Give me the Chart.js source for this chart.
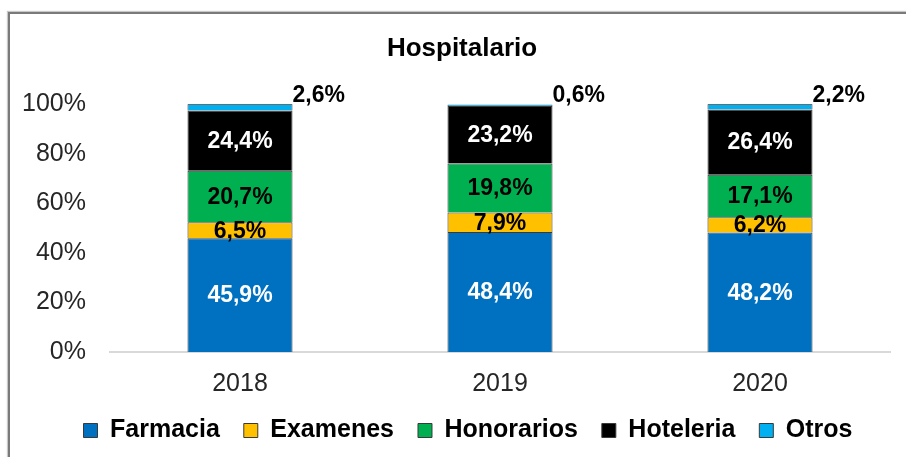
<!DOCTYPE html>
<html lang="es">
<head>
    <meta charset="UTF-8">
    <script src="https://cdn.jsdelivr.net/npm/chart.js@4/dist/chart.umd.min.js"></script>
    <title>Hospitalario</title>
    <style>
        body {
            margin: 0;
            background: #ffffff;
        }
        .frame {
            position: absolute;
            left: 8px;
            top: 12px;
            width: 1000px;
            height: 600px;
            border-left: 2px solid #7a7a7a;
            border-top: 2px solid #7a7a7a;
            box-shadow: -1px -1px 1px #c8c8c8;
        }
        .chart-container {
            position: absolute;
            left: 0;
            top: 0;
            width: 906px;
            height: 457px;
        }
    </style>
</head>
<body>
    <div class="frame"></div>
    <div class="chart-container">
        <canvas id="myChart"></canvas>
    </div>

    <script>
        // datos (porcentaje del gasto hospitalario)
        const years = ['2018', '2019', '2020'];
        const farmacia = [45.9, 48.4, 48.2];
        const examenes = [6.5, 7.9, 6.2];
        const honorarios = [20.7, 19.8, 17.1];
        const hoteleria = [24.4, 23.2, 26.4];
        const otros = [2.6, 0.6, 2.2];
        const yTicks = [0, 20, 40, 60, 80, 100];

        Chart.defaults.font.family = "'Liberation Sans', Arial, sans-serif";

        function pct(v) {
            return v.toFixed(1).replace('.', ',') + '%';
        }

        function serie(label, values, color, textColor, outside) {
            return {
                label: label,
                data: values,
                backgroundColor: color,
                borderColor: '#3a3a3a',
                borderWidth: 1,
                categoryPercentage: 1,
                barPercentage: 0.404,
                labelColor: textColor,
                labelOutside: outside
            };
        }

        const data = {
            labels: years,
            datasets: [
                serie('Farmacia', farmacia, '#0070C0', '#ffffff', false),
                serie('Examenes', examenes, '#FFC000', '#000000', false),
                serie('Honorarios', honorarios, '#00B050', '#000000', false),
                serie('Hoteleria', hoteleria, '#000000', '#ffffff', false),
                serie('Otros', otros, '#00B0F0', '#000000', true)
            ]
        };

        // etiquetas de valor dentro de cada segmento (Otros va arriba a la derecha)
        const valueLabels = {
            id: 'valueLabels',
            afterDatasetsDraw(chart) {
                const ctx = chart.ctx;
                ctx.save();
                ctx.font = 'bold 23px "Liberation Sans", Arial, sans-serif';
                chart.data.datasets.forEach((ds, i) => {
                    const meta = chart.getDatasetMeta(i);
                    meta.data.forEach((bar, j) => {
                        const text = pct(ds.data[j]);
                        ctx.fillStyle = ds.labelColor;
                        if (ds.labelOutside) {
                            const top = Math.max(bar.y, chart.chartArea.top);
                            ctx.textAlign = 'left';
                            ctx.textBaseline = 'bottom';
                            ctx.fillText(text, bar.x + bar.width / 2, top + 3);
                        } else {
                            ctx.textAlign = 'center';
                            ctx.textBaseline = 'middle';
                            ctx.fillText(text, bar.x, (bar.y + bar.base) / 2 + 1);
                        }
                    });
                });
                ctx.restore();
            }
        };

        // el marco del original es mas ancho que la imagen: titulo y leyenda van un poco a la derecha
        const shiftBoxes = {
            id: 'shiftBoxes',
            afterLayout(chart) {
                chart.titleBlock.left += 6;
                chart.titleBlock.right += 6;
                chart.legend.left += 12;
                chart.legend.right += 12;
            }
        };

        const options = {
            responsive: true,
            maintainAspectRatio: false,
            animation: false,
            layout: {
                padding: {
                    left: 22,
                    right: 16,
                    top: 0,
                    bottom: 4
                }
            },
            scales: {
                x: {
                    stacked: true,
                    grid: {
                        display: false,
                        drawTicks: false
                    },
                    border: {
                        display: true,
                        color: '#d9d9d9',
                        width: 2
                    },
                    ticks: {
                        color: '#262626',
                        padding: 17,
                        font: {
                            size: 25
                        }
                    },
                    afterFit: function(scale) {
                        scale.height = 42;
                    }
                },
                y: {
                    stacked: true,
                    min: 0,
                    max: 100,
                    grid: {
                        display: false,
                        drawTicks: false
                    },
                    border: {
                        display: false
                    },
                    afterBuildTicks: function(scale) {
                        scale.ticks = yTicks.map(v => ({ value: v }));
                    },
                    ticks: {
                        color: '#262626',
                        padding: 24,
                        font: {
                            size: 25
                        },
                        callback: function(val) {
                            return val + '%';
                        }
                    },
                    afterFit: function(scale) {
                        scale.width = 88;
                    }
                }
            },
            plugins: {
                title: {
                    display: true,
                    text: 'Hospitalario',
                    color: '#000000',
                    font: {
                        size: 26,
                        weight: 'bold'
                    },
                    padding: {
                        top: 33,
                        bottom: 40
                    }
                },
                legend: {
                    display: true,
                    position: 'bottom',
                    labels: {
                        color: '#000000',
                        boxWidth: 14,
                        boxHeight: 14,
                        padding: 24,
                        font: {
                            size: 25,
                            weight: 'bold'
                        }
                    }
                },
                tooltip: {
                    enabled: false
                }
            }
        };

        const config = {
            type: 'bar',
            data: data,
            options: options,
            plugins: [valueLabels, shiftBoxes]
        };

        const myChart = new Chart(
            document.getElementById('myChart'),
            config
        );
    </script>
</body>
</html>
